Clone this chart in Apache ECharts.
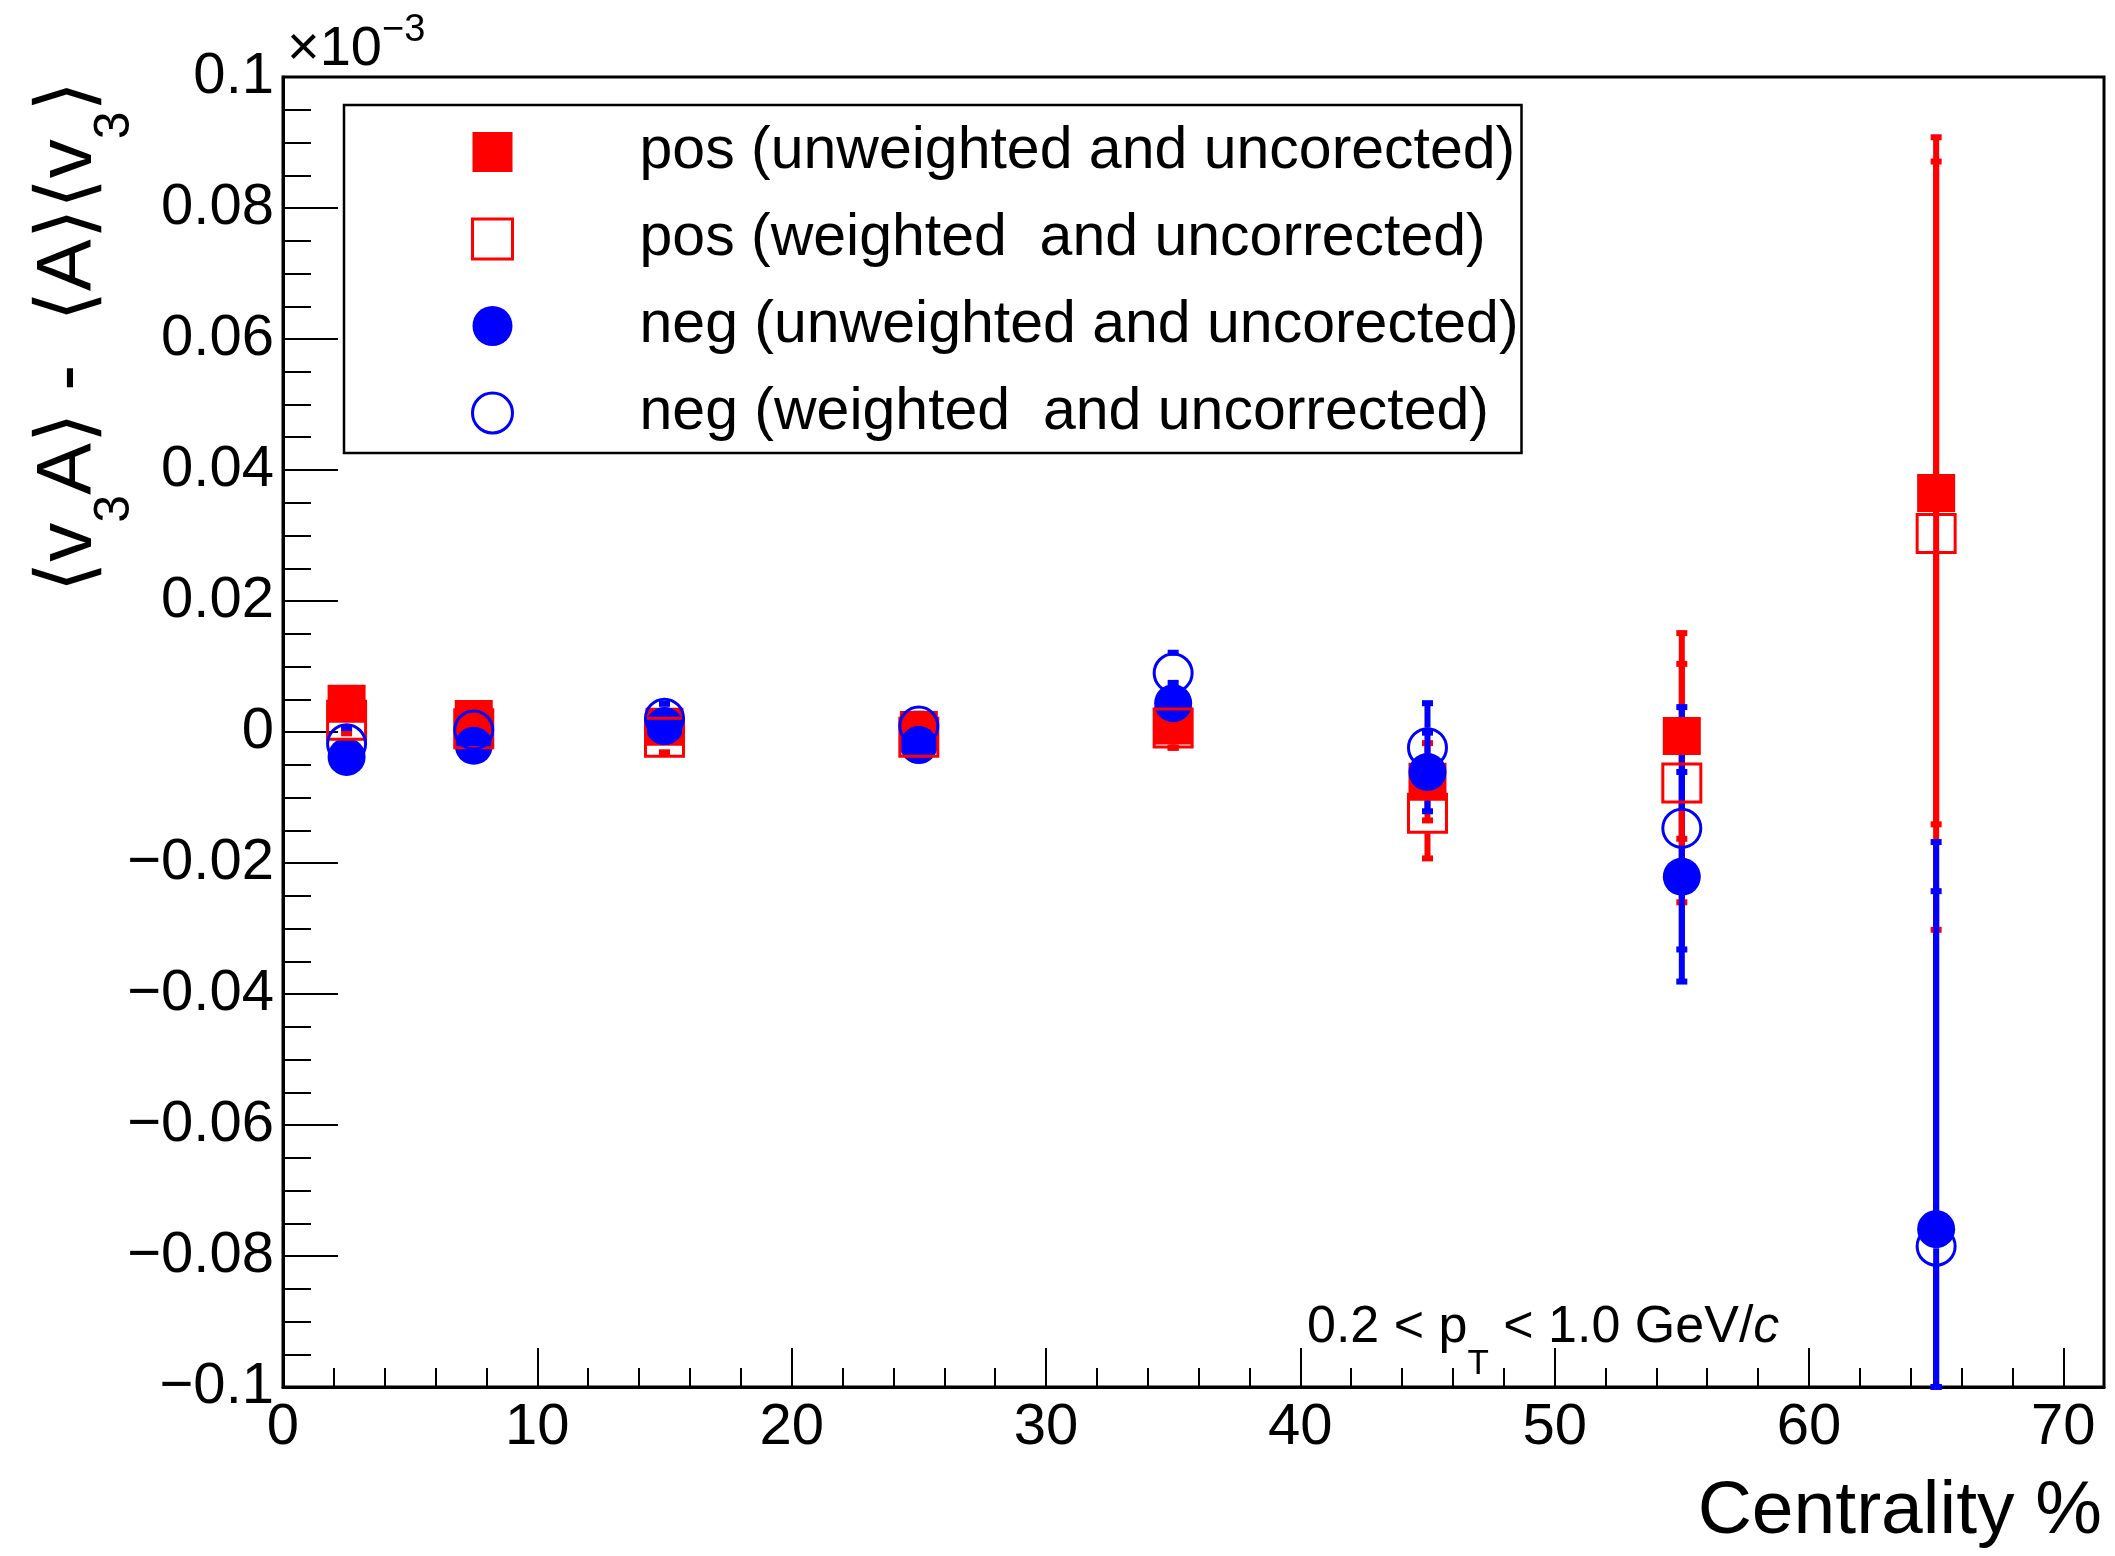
<!DOCTYPE html>
<html>
<head>
<meta charset="utf-8">
<script src="https://cdn.jsdelivr.net/npm/echarts@6.0.0/dist/echarts.min.js"></script>
<style>
  html, body { margin: 0; padding: 0; background: #fff; }
  #chart { width: 2115px; height: 1556px; }
</style>
</head>
<body>
<div id="chart"></div>
<script>
  // centrality bins (%)
  const centrality = [2.5, 7.5, 15, 25, 35, 45, 55, 65];

  // values in units of 1e-3
  const posUnweighted    = [0.0043, 0.0020, 0.0008, 0.0003, 0.0010, -0.0076, -0.0006, 0.0365];
  const posUnweightedErr = [0.0018, 0.0015, 0.0016, 0.0016, 0.0034, 0.0059, 0.0157, 0.0506];
  const posWeighted      = [0.0018, 0.0005, -0.0008, -0.0008, 0.0006, -0.0124, -0.0078, 0.0303];
  const posWeightedErr   = [0.0020, 0.0017, 0.0023, 0.0018, 0.0030, 0.0069, 0.0182, 0.0605];
  const negUnweighted    = [-0.0038, -0.0021, 0.0009, -0.0020, 0.0044, -0.0061, -0.0221, -0.0759];
  const negUnweightedErr = [0.0017, 0.0015, 0.0017, 0.0016, 0.0031, 0.0060, 0.0160, 0.0516];
  const negWeighted      = [-0.0018, 0.0003, 0.0021, 0.0009, 0.0090, -0.0024, -0.0147, -0.0785];
  const negWeightedErr   = [0.0024, 0.0019, 0.0022, 0.0019, 0.0031, 0.0068, 0.0185, 0.0617];

  const xTickLabels = ['0', '10', '20', '30', '40', '50', '60', '70'];
  const yTickLabels = ['\u22120.1', '\u22120.08', '\u22120.06', '\u22120.04', '\u22120.02', '0',
                       '0.02', '0.04', '0.06', '0.08', '0.1'];

  const names = [
    'pos (unweighted and uncorected)',
    'pos (weighted  and uncorrected)',
    'neg (unweighted and uncorected)',
    'neg (weighted  and uncorrected)'
  ];

  const FONT = '"Liberation Sans", Arial, Helvetica, "DejaVu Sans", sans-serif';
  const RED = '#ff0000';
  const BLUE = '#0000ff';
  const CLEAR = 'rgba(0,0,0,0)';
  const SQUARE = 'path://M0,0L10,0L10,10L0,10Z';

  const ctx = document.createElement('canvas').getContext('2d');
  const textWidth = (t, size, style) => {
    ctx.font = `${style || 'normal'} normal ${size}px ${FONT}`;
    return ctx.measureText(t).width;
  };

  // lay text pieces one after another (for sub/superscripts)
  const layoutRuns = (pieces, x0, yMid) => {
    let x = x0;
    const elems = [];
    pieces.forEach((p) => {
      const fs = p.italic ? 'italic' : 'normal';
      elems.push({
        type: 'text', x: x, y: yMid + (p.dy || 0), silent: true,
        style: {
          text: p.t, fontSize: p.size, fontFamily: FONT, fontStyle: fs,
          fill: '#000', align: 'left', verticalAlign: 'middle'
        }
      });
      x += textWidth(p.t, p.size, fs);
    });
    return { elems, width: x - x0 };
  };

  const zip = (ys, errs) => centrality.map((x, i) => errs ? [x, ys[i], errs[i]] : [x, ys[i]]);

  const errorBars = (name, color, ys, errs, gap) => ({
    type: 'custom',
    name: name + ' err',
    silent: true,
    itemStyle: { color: color },
    data: zip(ys, errs),
    renderItem: (params, api) => {
      const x = api.value(0), y = api.value(1), e = api.value(2);
      const cs = params.coordSys;
      const c = api.coord([x, y]);
      const hi = Math.max(api.coord([x, y + e])[1], cs.y);
      const lo = Math.min(api.coord([x, y - e])[1], cs.y + cs.height);
      const col = api.visual('color');
      const lw = 6, capW = 11, capH = 6;
      const kids = [];
      if (c[1] - gap > hi) {
        kids.push({ type: 'line', shape: { x1: c[0], y1: hi, x2: c[0], y2: c[1] - gap },
          style: { stroke: col, lineWidth: lw } });
      }
      if (c[1] + gap < lo) {
        kids.push({ type: 'line', shape: { x1: c[0], y1: c[1] + gap, x2: c[0], y2: lo },
          style: { stroke: col, lineWidth: lw } });
      }
      [hi, lo].forEach((yy) => {
        kids.push({ type: 'rect', shape: { x: c[0] - capW / 2, y: yy - capH / 2, width: capW, height: capH },
          style: { fill: col } });
      });
      return { type: 'group', children: kids };
    }
  });

  const markers = (name, symbol, filled, color, ys) => ({
    type: 'scatter',
    name: name,
    silent: true,
    symbol: symbol,
    symbolSize: 38,
    itemStyle: filled
      ? { color: color, opacity: 1 }
      : { color: CLEAR, borderColor: color, borderWidth: 3, opacity: 1 },
    emphasis: { disabled: true },
    data: zip(ys)
  });

  // axis titles / annotations
  const graphics = [];

  // y title: <v3A> - <A><v3>, rotated
  const yMain = 78, ySub = 50;
  const yTitle = layoutRuns([
    { t: '\u27E8v', size: yMain },
    { t: '3', size: ySub, dy: 46 },
    { t: 'A\u27E9 -  \u27E8A\u27E9\u27E8v', size: yMain },
    { t: '3', size: ySub, dy: 46 },
    { t: '\u27E9', size: yMain }
  ], 0, 69);
  graphics.push({
    type: 'group', x: 0, y: 81 + yTitle.width, rotation: Math.PI / 2,
    children: yTitle.elems
  });

  // x10^-3 multiplier
  graphics.push(...layoutRuns([
    { t: '\u00D710', size: 56 },
    { t: '\u22123', size: 38, dy: -19 }
  ], 287, 50).elems);

  // pT range annotation
  graphics.push(...layoutRuns([
    { t: '0.2 < p', size: 52 },
    { t: 'T', size: 35, dy: 36 },
    { t: ' < 1.0 GeV/', size: 52 },
    { t: 'c', size: 52, italic: true }
  ], 1307, 1328).elems);

  // x title
  graphics.push({
    type: 'text', x: 2102, y: 1512, silent: true,
    style: { text: 'Centrality %', fontSize: 75, fontFamily: FONT, fill: '#000',
      align: 'right', verticalAlign: 'middle' }
  });

  const chart = echarts.init(document.getElementById('chart'), null, { renderer: 'canvas' });

  const tickStyle = { color: '#000', width: 2 };
  const labelBase = { fontSize: 58, fontFamily: FONT, color: '#000' };

  chart.setOption({
    animation: false,
    backgroundColor: '#fff',
    grid: {
      left: 283, right: 11, top: 77, bottom: 169,
      show: true, borderColor: '#000', borderWidth: 3,
      containLabel: false, outerBoundsMode: 'none'
    },
    legend: {
      orient: 'vertical',
      left: 344, top: 105,
      padding: [17, 2, 10, 127],
      itemGap: 27, itemWidth: 284, itemHeight: 40,
      symbolKeepAspect: true,
      borderColor: '#000', borderWidth: 2.5, backgroundColor: '#fff',
      selectedMode: false,
      textStyle: { fontSize: 59, lineHeight: 60, fontFamily: FONT, color: '#000', width: 880, overflow: 'none' },
      data: [
        { name: names[0], icon: SQUARE, itemStyle: { color: RED, borderWidth: 0 } },
        { name: names[1], icon: SQUARE, itemStyle: { color: CLEAR, borderColor: RED, borderWidth: 3 } },
        { name: names[2], icon: 'circle', itemStyle: { color: BLUE, borderWidth: 0 } },
        { name: names[3], icon: 'circle', itemStyle: { color: CLEAR, borderColor: BLUE, borderWidth: 3 } }
      ]
    },
    xAxis: [
      {
        type: 'value', min: 0, max: 71.6, interval: 10,
        axisLine: { onZero: false, lineStyle: { color: '#000', width: 3 } },
        axisTick: { inside: true, length: 39, lineStyle: tickStyle },
        minorTick: { show: false },
        splitLine: { show: false },
        axisLabel: Object.assign({}, labelBase, {
          margin: 12, showMaxLabel: false,
          formatter: (v) => (Math.abs(v / 10 - Math.round(v / 10)) < 1e-6 ? xTickLabels[Math.round(v / 10)] || '' : '')
        })
      },
      {
        type: 'value', min: 0, max: 71.6, interval: 2, position: 'bottom',
        axisLine: { show: false, onZero: false },
        axisTick: { inside: true, length: 19, lineStyle: tickStyle },
        axisLabel: { show: false },
        splitLine: { show: false }
      }
    ],
    yAxis: {
      type: 'value', min: -0.1, max: 0.1, interval: 0.02,
      axisLine: { onZero: false, lineStyle: { color: '#000', width: 3 } },
      axisTick: { inside: true, length: 55, lineStyle: tickStyle },
      minorTick: { show: true, splitNumber: 4, length: 28, lineStyle: tickStyle },
      splitLine: { show: false },
      minorSplitLine: { show: false },
      axisLabel: Object.assign({}, labelBase, {
        margin: 9, showMinLabel: true, showMaxLabel: true,
        formatter: (v) => yTickLabels[Math.round((v + 0.1) / 0.02)] || ''
      })
    },
    graphic: graphics,
    series: [
      errorBars(names[0], RED, posUnweighted, posUnweightedErr, 19),
      markers(names[0], 'rect', true, RED, posUnweighted),
      errorBars(names[2], BLUE, negUnweighted, negUnweightedErr, 19),
      markers(names[2], 'circle', true, BLUE, negUnweighted),
      errorBars(names[1], RED, posWeighted, posWeightedErr, 20),
      markers(names[1], 'rect', false, RED, posWeighted),
      errorBars(names[3], BLUE, negWeighted, negWeightedErr, 20),
      markers(names[3], 'circle', false, BLUE, negWeighted)
    ]
  });
</script>
</body>
</html>
